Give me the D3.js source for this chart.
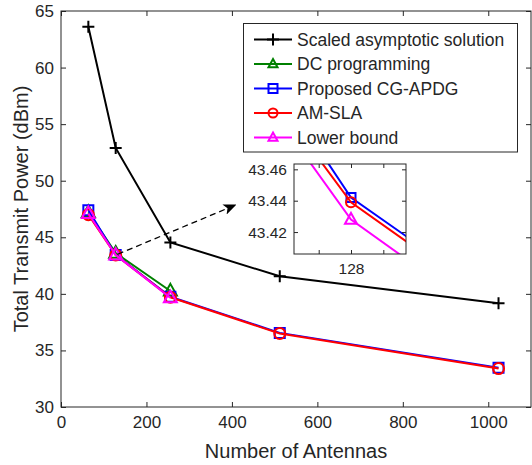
<!DOCTYPE html>
<html>
<head>
<meta charset="utf-8">
<script src="https://cdn.jsdelivr.net/npm/d3@7"></script>
<style>
  body { margin: 0; background: #fff; }
  text { font-family: "Liberation Sans", Arial, sans-serif; fill: #262626; }
</style>
</head>
<body>
<svg id="chart" width="532" height="465"></svg>
<script>
// values
const antennas = [64, 128, 256, 512, 1024]
const scaledAsym = [63.6, 52.9, 44.55, 41.55, 39.18]
const dcProg = [47.2, 43.6, 40.25]
const cgApdg = [47.4, 43.442, 39.74, 36.55, 33.47]
const amSla = [47.0, 43.439, 39.7, 36.5, 33.4]
const lowerBound = [47.1, 43.428, 39.65]

const xTicks = [0, 200, 400, 600, 800, 1000]
const yTicks = [30, 35, 40, 45, 50, 55, 60, 65]
const insetXTicks = [127.5, 128, 128.5]
const insetYTicks = [43.42, 43.44, 43.46]

const series = [
	{ name: 'Scaled asymptotic solution', values: scaledAsym, color: '#000000', marker: 'plus' },
	{ name: 'DC programming', values: dcProg, color: '#008000', marker: 'triangle' },
	{ name: 'Proposed CG-APDG', values: cgApdg, color: '#0000ff', marker: 'square' },
	{ name: 'AM-SLA', values: amSla, color: '#ff0000', marker: 'circle' },
	{ name: 'Lower bound', values: lowerBound, color: '#ff00ff', marker: 'triangle' }
]

const svg = d3.select('#chart')
const axisColor = '#262626'

const plot = { left: 61, right: 531, top: 11, bottom: 407 }
const x = d3.scaleLinear().domain([0, 1100]).range([plot.left, plot.right])
const y = d3.scaleLinear().domain([30, 65]).range([plot.bottom, plot.top])

const inset = { left: 294, right: 406, top: 164, bottom: 254 }
const xi = d3.scaleLinear().domain([127.118, 128.851]).range([inset.left, inset.right])
const yi = d3.scaleLinear().domain([43.406, 43.4634]).range([inset.bottom, inset.top])

function markerPath (type, size) {
	if (type === 'plus') return `M${-size},0H${size}M0,${-size}V${size}`
	if (type === 'square') return `M${-size},${-size}H${size}V${size}H${-size}Z`
	if (type === 'triangle') return `M0,${-size * 1.1}L${size},${size * 0.7}L${-size},${size * 0.7}Z`
	return null
}

function drawMarker (g, type, cx, cy, color, size) {
	if (type === 'circle') {
		g.append('circle').attr('cx', cx).attr('cy', cy).attr('r', size)
			.attr('fill', 'none').attr('stroke', color).attr('stroke-width', 2)
	} else {
		g.append('path').attr('d', markerPath(type, size))
			.attr('transform', `translate(${cx},${cy})`)
			.attr('fill', 'none').attr('stroke', color).attr('stroke-width', 2)
	}
}

const markerSize = { plus: 6, square: 5, triangle: 6.5, circle: 5.5 }

// axes box with inward ticks (mirrored on top and right)
function drawAxes (g, xs, ys, xt, yt, box, xFmt, yFmt, fontSize, tickLen) {
	const axB = g.append('g').attr('transform', `translate(0,${box.bottom})`)
		.call(d3.axisBottom(xs).tickValues(xt).tickSizeInner(-tickLen).tickSizeOuter(0).tickPadding(9).tickFormat(xFmt))
	const axT = g.append('g').attr('transform', `translate(0,${box.top})`)
		.call(d3.axisTop(xs).tickValues(xt).tickSizeInner(-tickLen).tickSizeOuter(0).tickFormat(''))
	const axL = g.append('g').attr('transform', `translate(${box.left},0)`)
		.call(d3.axisLeft(ys).tickValues(yt).tickSizeInner(-tickLen).tickSizeOuter(0).tickPadding(7).tickFormat(yFmt))
	const axR = g.append('g').attr('transform', `translate(${box.right},0)`)
		.call(d3.axisRight(ys).tickValues(yt).tickSizeInner(-tickLen).tickSizeOuter(0).tickFormat(''))
	for (const a of [axB, axT, axL, axR]) {
		a.select('.domain').remove()
		a.selectAll('line').attr('stroke', axisColor)
		a.selectAll('text').attr('font-size', fontSize)
			.style('font-family', '"Liberation Sans", Arial, sans-serif').attr('fill', axisColor)
	}
	g.append('rect').attr('x', box.left).attr('y', box.top)
		.attr('width', box.right - box.left).attr('height', box.bottom - box.top)
		.attr('fill', 'none').attr('stroke', axisColor).attr('stroke-width', 1)
}

// main plot
const main = svg.append('g')
drawAxes(main, x, y, xTicks, yTicks, plot, d3.format('d'), d3.format('d'), '17px', 5)

const line = d3.line().x((d) => x(d[0])).y((d) => y(d[1]))
for (const s of series) {
	const pts = s.values.map((v, i) => [antennas[i], v])
	main.append('path').datum(pts).attr('d', line)
		.attr('fill', 'none').attr('stroke', s.color).attr('stroke-width', 2)
	const mg = main.append('g')
	pts.forEach((p) => drawMarker(mg, s.marker, x(p[0]), y(p[1]), s.color, markerSize[s.marker]))
}

// axis labels
svg.append('text').attr('x', x(550)).attr('y', 458).attr('text-anchor', 'middle')
	.attr('font-size', '20px').text('Number of Antennas')
svg.append('text').attr('transform', `translate(28,${(plot.top + plot.bottom) / 2}) rotate(-90)`)
	.attr('text-anchor', 'middle').attr('font-size', '20px').text('Total Transmit Power (dBm)')

// dashed arrow pointing to the inset
const arrowFrom = [x(128) + 2, y(43.5)]
const arrowTo = [235.5, 205]
svg.append('defs').append('marker').attr('id', 'head')
	.attr('viewBox', '0 0 12 10').attr('refX', 11).attr('refY', 5)
	.attr('markerWidth', 13).attr('markerHeight', 11).attr('markerUnits', 'userSpaceOnUse')
	.attr('orient', 'auto')
	.append('path').attr('d', 'M0,0L12,5L0,10L3,5Z').attr('fill', '#000')
svg.append('line').attr('x1', arrowFrom[0]).attr('y1', arrowFrom[1])
	.attr('x2', arrowTo[0]).attr('y2', arrowTo[1])
	.attr('stroke', '#000').attr('stroke-width', 1.3).attr('stroke-dasharray', '6,4')
	.attr('marker-end', 'url(#head)')

// legend
const legend = svg.append('g')
legend.append('rect').attr('x', 243.5).attr('y', 23.5).attr('width', 274).attr('height', 128.5)
	.attr('fill', '#fff').attr('stroke', axisColor).attr('stroke-width', 1)
series.forEach((s, i) => {
	const ly = 39.5 + i * 24.5
	legend.append('line').attr('x1', 254).attr('x2', 292).attr('y1', ly).attr('y2', ly)
		.attr('stroke', s.color).attr('stroke-width', 2)
	drawMarker(legend, s.marker, 273, ly, s.color, s.marker === 'plus' ? 6 : 4.5)
	legend.append('text').attr('x', 297).attr('y', ly).attr('dy', '0.35em')
		.attr('font-size', '17.5px').attr('fill', '#000').text(s.name)
})

// zoomed inset around 128 antennas
const ins = svg.append('g')
ins.append('rect').attr('x', inset.left).attr('y', inset.top)
	.attr('width', inset.right - inset.left).attr('height', inset.bottom - inset.top).attr('fill', '#fff')
svg.append('clipPath').attr('id', 'insetClip').append('rect')
	.attr('x', inset.left).attr('y', inset.top)
	.attr('width', inset.right - inset.left).attr('height', inset.bottom - inset.top)
const insLines = ins.append('g').attr('clip-path', 'url(#insetClip)')
const lineI = d3.line().x((d) => xi(d[0])).y((d) => yi(d[1]))
for (const s of series.slice(1)) {
	const pts = s.values.map((v, i) => [antennas[i], v])
	insLines.append('path').datum(pts).attr('d', lineI)
		.attr('fill', 'none').attr('stroke', s.color).attr('stroke-width', 2)
	pts.forEach((p) => drawMarker(insLines, s.marker, xi(p[0]), yi(p[1]), s.color, markerSize[s.marker] - 0.5))
}
drawAxes(ins, xi, yi, insetXTicks, insetYTicks, inset,
	(d) => d === 128 ? '128' : '', d3.format('.2f'), '15.5px', 4)
</script>
</body>
</html>
